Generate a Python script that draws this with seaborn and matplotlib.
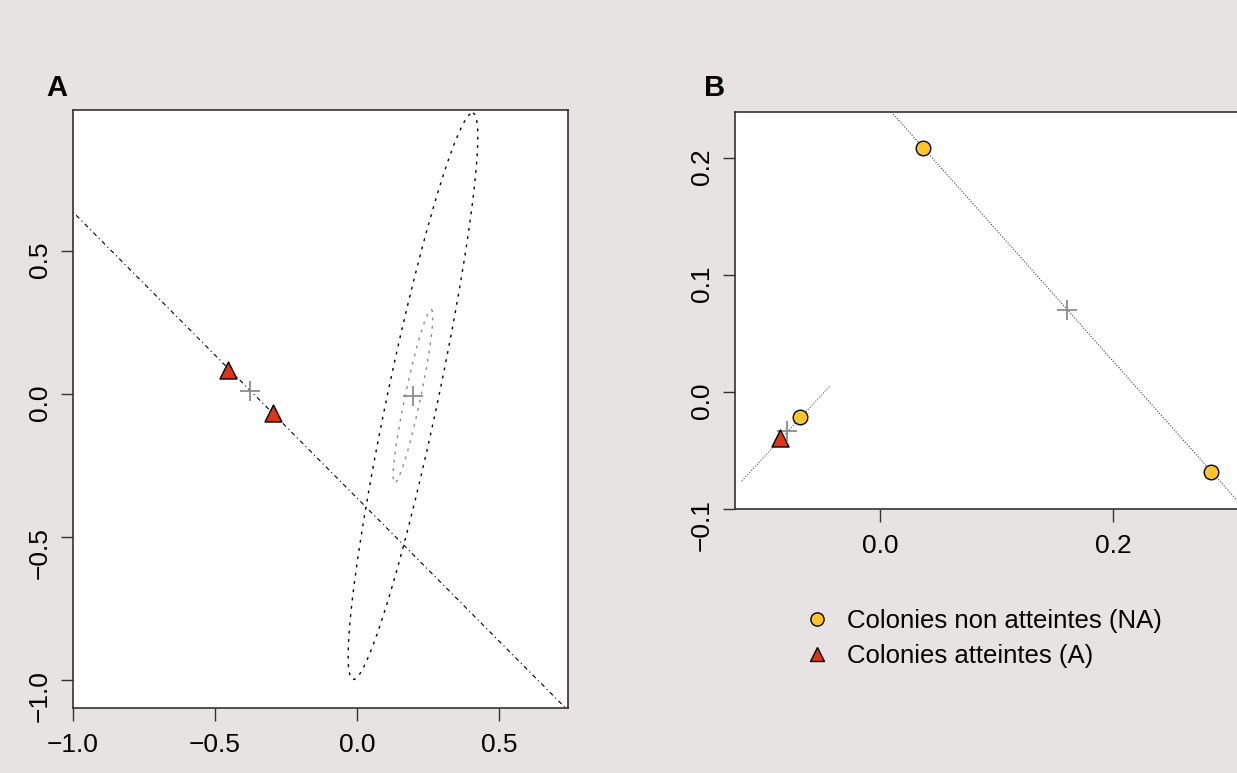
import numpy as np
import pandas as pd
import matplotlib
matplotlib.use("Agg")
import matplotlib.pyplot as plt
import seaborn as sns
from matplotlib.lines import Line2D

# ---- data ----
# panel A
a_x = [-0.453, -0.295]
a_y = [0.084, -0.066]
a_centre = [-0.378, 0.012]
a_line = (-0.364, -1.0)          # intercept, slope
ell_centre = [0.197, -0.008]
ell_major = [0.211, 0.990]       # half major axis vector
ell_minor = 0.089                # half minor axis length
ell_levels = [1.0, 0.306]
ell_colors = ["black", "#8c8c8c"]

# panel B
b_na_x = [0.037, 0.284, -0.069]
b_na_y = [0.2085, -0.068, -0.021]
b_a_x = [-0.086]
b_a_y = [-0.039]
b_centre_x = [0.160, -0.080]
b_centre_y = [0.070, -0.033]
b_seg_x = [-0.1185, -0.043]
b_seg_y = [-0.076, 0.005]

legend_labels = ["Colonies non atteintes (NA)", "Colonies atteintes (A)"]
col_na = "#fec52a"
col_a = "#de3512"
bg = "#e6e3e2"

sns.set_theme(style="white")
plt.rcParams["font.family"] = ["Liberation Sans", "DejaVu Sans"]
plt.rcParams["text.color"] = "black"
plt.rcParams["xtick.labelcolor"] = "black"
plt.rcParams["ytick.labelcolor"] = "black"

fig = plt.figure(figsize=(12.37, 7.73), dpi=100, facecolor=bg)
axA = fig.add_axes([0.059, 0.0841, 0.400, 0.7736])
axB = fig.add_axes([0.594, 0.3415, 0.406, 0.5136])


def style_axis(ax):
    ax.set_facecolor("white")
    for s in ax.spines.values():
        s.set_color("#333333")
        s.set_linewidth(1.2)
    ax.tick_params(direction="out", length=9, width=1, color="#333333",
                   labelsize=19, pad=6, bottom=True, left=True,
                   labelcolor="black")
    ax.tick_params(axis="x", pad=9)
    ax.tick_params(axis="y", labelrotation=90)
    ax.set_xlabel("")
    ax.set_ylabel("")


# ---- panel A ----
t = np.linspace(0, 2 * np.pi, 400)
maj = np.array(ell_major)
u = maj / np.linalg.norm(maj)
v = np.array([u[1], -u[0]])
for lev, col in zip(ell_levels, ell_colors):
    ex = ell_centre[0] + lev * (np.cos(t) * maj[0] + np.sin(t) * ell_minor * v[0])
    ey = ell_centre[1] + lev * (np.cos(t) * maj[1] + np.sin(t) * ell_minor * v[1])
    axA.plot(ex, ey, color=col, lw=1.0, dashes=(2, 4))

axA.axline((0, a_line[0]), slope=a_line[1], color="black", lw=0.8,
           dashes=(1, 3, 4, 3))
axA.plot([a_centre[0], ell_centre[0]], [a_centre[1], ell_centre[1]],
         ls="none", marker="+", ms=14, mew=1.3, color="#8c8c8c")
dfA = pd.DataFrame({"x": a_x, "y": a_y})
sns.scatterplot(data=dfA, x="x", y="y", ax=axA, marker="^", s=150,
                color=col_a, edgecolor="black", linewidth=1.0, zorder=4)
axA.set_xlim(-1.0, 0.742)
axA.set_ylim(-1.098, 0.993)
axA.set_xticks([-1.0, -0.5, 0.0, 0.5])
axA.set_yticks([-1.0, -0.5, 0.0, 0.5])
style_axis(axA)

# ---- panel B ----
axB.axline((b_na_x[0], b_na_y[0]), (b_na_x[1], b_na_y[1]), color="#444444",
           lw=0.8, dashes=(1, 1.5))
axB.plot(b_seg_x, b_seg_y, color="#555555", lw=0.8, dashes=(1, 1.5))
axB.plot(b_centre_x, b_centre_y, ls="none", marker="+", ms=14, mew=1.3,
         color="#8c8c8c")
dfB = pd.DataFrame({"x": b_na_x, "y": b_na_y})
sns.scatterplot(data=dfB, x="x", y="y", ax=axB, marker="o", s=110,
                color=col_na, edgecolor="black", linewidth=1.0, zorder=4)
dfB2 = pd.DataFrame({"x": b_a_x, "y": b_a_y})
sns.scatterplot(data=dfB2, x="x", y="y", ax=axB, marker="^", s=150,
                color=col_a, edgecolor="black", linewidth=1.0, zorder=4)
axB.set_xlim(-0.1245, 0.306)
axB.set_ylim(-0.1, 0.239)
axB.set_xticks([0.0, 0.2])
axB.set_yticks([-0.1, 0.0, 0.1, 0.2])
style_axis(axB)
axB.spines["right"].set_visible(False)

# panel letters
fig.text(0.046, 0.886, "A", fontsize=21, fontweight="bold", ha="center", va="center")
fig.text(0.578, 0.886, "B", fontsize=21, fontweight="bold", ha="center", va="center")

# legend
handles = [
    Line2D([], [], ls="none", marker="o", ms=9.5, mfc=col_na, mec="black", mew=1.0),
    Line2D([], [], ls="none", marker="^", ms=9.5, mfc=col_a, mec="black", mew=1.0),
]
fig.legend(handles, legend_labels, loc="center left",
           bbox_to_anchor=(0.629, 0.174), frameon=False, fontsize=18.5,
           handletextpad=0.6, labelspacing=0.45, handlelength=1.2)

fig.savefig("out.png", dpi=100, facecolor=bg)
